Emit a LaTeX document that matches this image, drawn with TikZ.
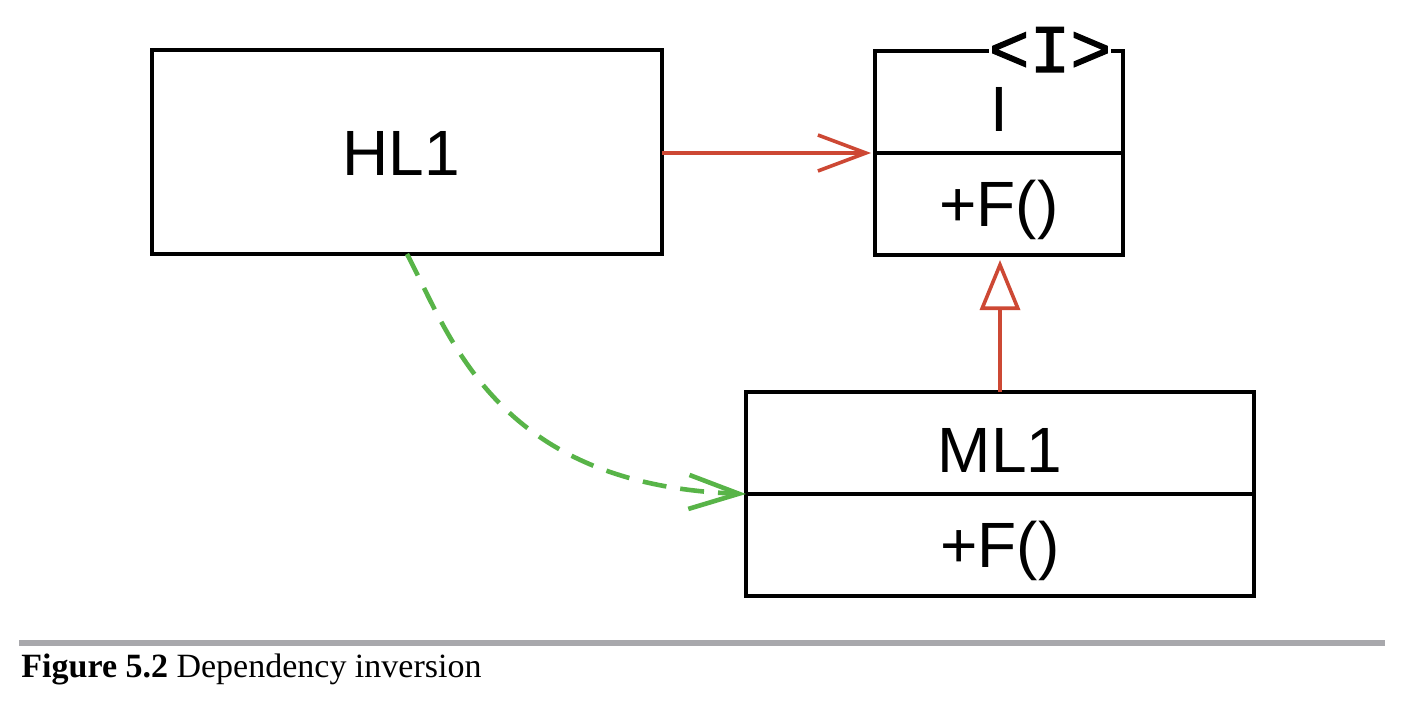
\documentclass[tikz,border=0pt]{standalone}
\usepackage{fontspec}
\setmainfont{Liberation Sans}
\newfontfamily\capfont{Liberation Serif}
\newfontfamily\stereofont[FakeBold=1.6]{Liberation Mono}
\usetikzlibrary{positioning,arrows.meta}
\definecolor{umlred}{RGB}{205,72,52}
\definecolor{umlgreen}{RGB}{88,180,72}
\definecolor{rulegray}{RGB}{168,168,172}
\tikzset{
  umlbox/.style={draw, line width=2pt, outer sep=0pt, inner sep=0pt, font=\fontsize{32}{38}\selectfont},
  classbox/.style={umlbox, minimum width=255pt, minimum height=102pt, text height=23pt, text depth=0pt},
  namepart/.style={umlbox, minimum height=51pt, text height=29.5pt, text depth=0pt},
  opspart/.style={umlbox, minimum height=51pt, text height=22.5pt, text depth=0pt},
  stereo/.style={fill=white, inner sep=0pt, anchor=base, font=\stereofont\fontsize{34}{40}\selectfont},
  assoc/.style={umlred, line width=1.8pt, -{Straight Barb[length=24pt,width=18pt]}, shorten >=2pt},
  realize/.style={umlred, line width=1.8pt, -{Triangle[length=25pt,width=20pt,fill=white]}, shorten >=2.5pt},
  depend/.style={umlgreen, line width=2.3pt, dash pattern=on 12pt off 7pt, -{Straight Barb[length=25pt,width=17pt]}},
}
\begin{document}
\begin{tikzpicture}[x=0.5pt,y=-0.5pt]
  \useasboundingbox (0,0) rectangle (1406,706);
  % Define nodes
  \node[classbox] (hl) at (407,152) {\hspace{-6pt}HL1};
  \node[namepart, minimum width=124pt] (iname) at (999,102) {I};
  \node[opspart, minimum width=124pt, below=0pt of iname] (iops) {+F()};
  \node[stereo] (istereo) at (1050,72) {<I>};
  \node[namepart, minimum width=254pt] (mlname) at (1000,443) {ML1};
  \node[opspart, minimum width=254pt, below=0pt of mlname] (mlops) {+F()};

  % Connect the nodes
  \draw[assoc] (hl.east |- iname.south) -- (iname.south west);
  \draw[realize] (mlname.north) -- (mlname.north |- iops.south);
  \draw[depend] (hl.south) .. controls (450,335) and (495,485) .. (mlname.south west);

  % Caption
  \fill[rulegray] (19,640) rectangle (1385,646);
  \node[anchor=base west, inner sep=0pt, font=\capfont\fontsize{17}{20}\selectfont] (caption) at (21,677) {\textbf{Figure 5.2} Dependency inversion};
\end{tikzpicture}
\end{document}
